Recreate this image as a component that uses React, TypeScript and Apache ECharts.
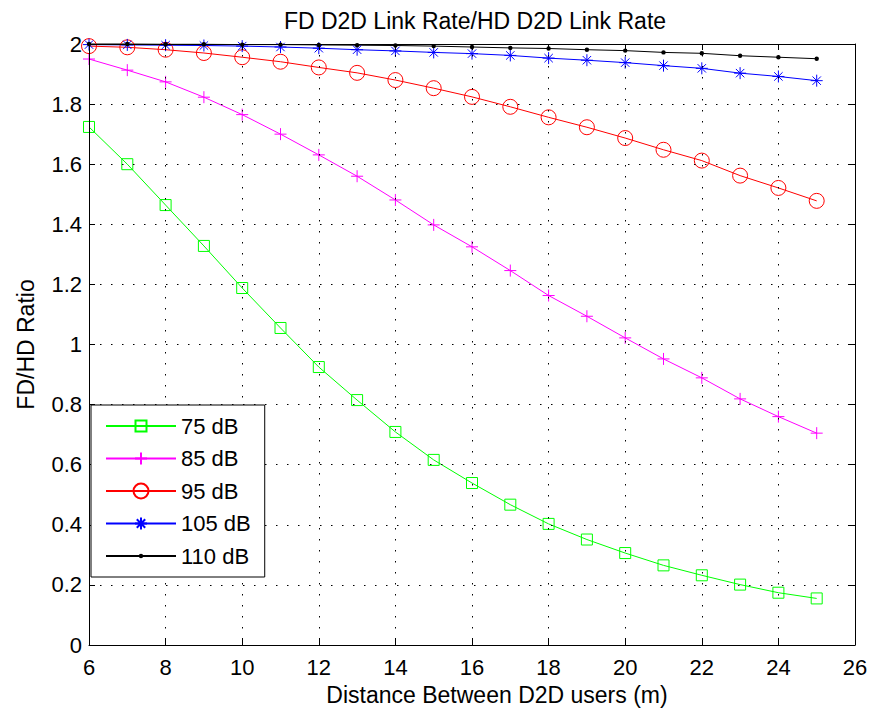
import React, { useEffect, useRef } from "react";
import * as echarts from "echarts";

const distances = [6, 7, 8, 9, 10, 11, 12, 13, 14, 15, 16, 17, 18, 19, 20, 21, 22, 23, 24, 25];
const seriesNames = ["75 dB", "85 dB", "95 dB", "105 dB", "110 dB"];
const ratio75 = [1.724, 1.6, 1.464, 1.328, 1.188, 1.055, 0.925, 0.815, 0.709, 0.616, 0.539, 0.467, 0.403, 0.351, 0.306, 0.265, 0.232, 0.201, 0.174, 0.155];
const ratio85 = [1.95, 1.913, 1.874, 1.823, 1.765, 1.7, 1.631, 1.56, 1.481, 1.398, 1.325, 1.246, 1.163, 1.094, 1.022, 0.952, 0.889, 0.819, 0.76, 0.705];
const ratio95 = [1.993, 1.989, 1.981, 1.97, 1.956, 1.941, 1.922, 1.904, 1.88, 1.853, 1.824, 1.791, 1.756, 1.723, 1.687, 1.648, 1.612, 1.562, 1.521, 1.478];
const ratio105 = [1.998, 1.997, 1.996, 1.995, 1.993, 1.99, 1.986, 1.981, 1.977, 1.972, 1.968, 1.962, 1.953, 1.946, 1.938, 1.928, 1.919, 1.903, 1.892, 1.878];
const ratio110 = [2.0, 2.0, 1.999, 1.999, 1.998, 1.998, 1.997, 1.996, 1.995, 1.993, 1.99, 1.987, 1.985, 1.981, 1.978, 1.972, 1.969, 1.961, 1.956, 1.951];

const FONT = "'Liberation Sans', Arial, sans-serif";

export default function App() {
  const ref = useRef<HTMLDivElement>(null);
  useEffect(() => {
    if (!ref.current) return;
    const chart = echarts.init(ref.current, null, { renderer: "svg" });
    const values = [ratio75, ratio85, ratio95, ratio105, ratio110];
    const colors = ["#00ff00", "#ff00ff", "#ff0000", "#0000ff", "#000000"];
    // every marker shape lives in a 16x16 box so plot and legend markers share one size
    const symbols = [
      "path://M0,0M16,16M2.5,2.5L13.5,2.5L13.5,13.5L2.5,13.5Z",
      "path://M0,0M16,16M8,2L8,14M2,8L14,8",
      "path://M0,0M16,16M15.5,8A7.5,7.5,0,1,1,0.5,8A7.5,7.5,0,1,1,15.5,8Z",
      "path://M0,0M16,16M8,2L8,14M2,8L14,8M3.8,3.8L12.2,12.2M12.2,3.8L3.8,12.2",
      "path://M0,0M16,16M10.2,8A2.2,2.2,0,1,1,5.8,8A2.2,2.2,0,1,1,10.2,8Z",
    ];
    const series = values.map((vals, i) => ({
      name: seriesNames[i],
      type: "line",
      xAxisIndex: 0,
      yAxisIndex: 0,
      data: distances.map((d, j) => [d, vals[j]]),
      symbol: symbols[i],
      symbolSize: 16,
      showAllSymbol: true,
      clip: false,
      lineStyle: { color: colors[i], width: 1 },
      itemStyle:
        i === 4
          ? { color: colors[i], borderWidth: 0 }
          : { color: "rgba(255,255,255,0)", borderColor: colors[i], borderWidth: 1 },
      emphasis: { disabled: true },
      z: 3,
    }));
    const axisLabel = { color: "#000", fontSize: 22, fontFamily: FONT };
    const gridLine = { show: true, lineStyle: { color: "#000", width: 1, type: [1.5, 9.5] } };
    chart.setOption({
      animation: false,
      backgroundColor: "#fff",
      title: {
        text: "FD D2D Link Rate/HD D2D Link Rate",
        left: 470,
        textAlign: "center",
        top: 4,
        textStyle: { color: "#000", fontSize: 23, fontWeight: "normal", fontFamily: FONT },
      },
      grid: { left: 89, right: 18, top: 44, bottom: 65, containLabel: false },
      legend: {
        left: 91,
        top: 405,
        orient: "vertical",
        data: seriesNames,
        itemWidth: 70,
        itemHeight: 20,
        itemGap: 10.5,
        padding: [10, 14, 10, 14],
        backgroundColor: "#fff",
        borderColor: "#000",
        borderWidth: 1,
        borderRadius: 0,
        selectedMode: false,
        textStyle: { color: "#000", fontSize: 22, fontFamily: FONT, lineHeight: 22 },
        z: 10,
      },
      xAxis: [
        {
          type: "value",
          position: "bottom",
          min: 6,
          max: 26,
          interval: 2,
          name: "Distance Between D2D users (m)",
          nameLocation: "middle",
          nameGap: 38,
          nameTextStyle: { color: "#000", fontSize: 23, fontFamily: FONT, padding: [0, 0, 0, 50] },
          axisLine: { show: true, onZero: false, lineStyle: { color: "#000", width: 1 } },
          axisTick: { show: true, inside: true, length: 6, lineStyle: { color: "#000" } },
          axisLabel: { ...axisLabel, margin: 11 },
          splitLine: gridLine,
          z: 5,
        },
        {
          type: "value",
          position: "top",
          min: 6,
          max: 26,
          interval: 2,
          axisLine: { show: true, onZero: false, lineStyle: { color: "#000", width: 1 } },
          axisTick: { show: true, inside: true, length: 6, lineStyle: { color: "#000" } },
          axisLabel: { show: false },
          splitLine: { show: false },
          z: 5,
        },
      ],
      yAxis: [
        {
          type: "value",
          position: "left",
          min: 0,
          max: 2,
          interval: 0.2,
          name: "FD/HD Ratio",
          nameLocation: "middle",
          nameGap: 52,
          nameTextStyle: { color: "#000", fontSize: 23, fontFamily: FONT },
          axisLine: { show: true, onZero: false, lineStyle: { color: "#000", width: 1 } },
          axisTick: { show: true, inside: true, length: 6, lineStyle: { color: "#000" } },
          axisLabel: { ...axisLabel, margin: 7 },
          splitLine: gridLine,
          z: 5,
        },
        {
          type: "value",
          position: "right",
          min: 0,
          max: 2,
          interval: 0.2,
          axisLine: { show: true, onZero: false, lineStyle: { color: "#000", width: 1 } },
          axisTick: { show: true, inside: true, length: 6, lineStyle: { color: "#000" } },
          axisLabel: { show: false },
          splitLine: { show: false },
          z: 5,
        },
      ],
      series,
    });
    return () => chart.dispose();
  }, []);
  return (
    <div
      ref={ref}
      style={{ position: "fixed", left: 0, top: 0, width: 873, height: 711, background: "#fff" }}
    />
  );
}
